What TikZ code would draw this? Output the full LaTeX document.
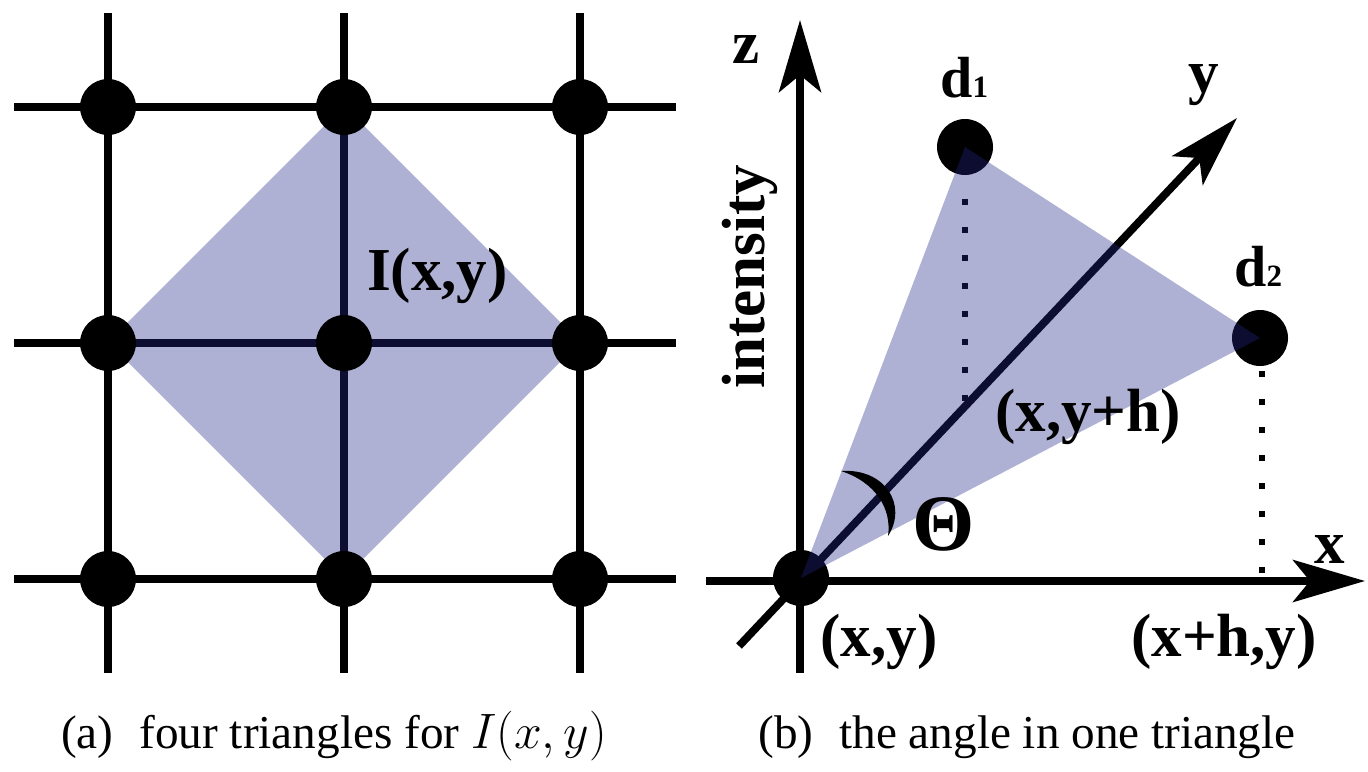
\documentclass[tikz,border=0pt]{standalone}
\usepackage{fontspec}
\setmainfont{Liberation Serif}
\usetikzlibrary{arrows.meta}
\definecolor{shadec}{RGB}{33,38,137}
\begin{document}
\begin{tikzpicture}[x=0.5pt,y=-0.5pt,
  lbl/.style={font=\bfseries\fontsize{30.5}{36}\selectfont, inner sep=0, anchor=base},
  dlbl/.style={font=\bfseries\fontsize{29}{34}\selectfont, inner sep=0, anchor=base west},
  dot/.style={circle, fill=black, minimum size=28pt, inner sep=0},
  gridline/.style={line width=3.7pt},
  axisline/.style={line width=3.9pt, -{Stealth[length=36pt,width=21pt,inset=8.5pt]}},
  dotline/.style={line width=3pt, dash pattern=on 3pt off 11pt},
  shade/.style={fill=shadec, fill opacity=0.365},
  capt/.style={font=\fontsize{23.6}{28}\selectfont, inner sep=0, anchor=base}]
\useasboundingbox (0,0) rectangle (1368,771);
% ---------- left panel ----------
\foreach \v in {108,344,580}{
  \draw[gridline] (\v,13) -- (\v,673);
  \draw[gridline] (14,\v-1) -- (676,\v-1);
}
\fill[shade] (344,106) -- (580,342) -- (344,578) -- (108,342) -- cycle;
\foreach \i/\x in {1/108,2/344,3/580}{
  \foreach \j/\y in {1/107,2/343,3/579}{
    \node[dot] (g\i\j) at (\x,\y) {};
  }
}
\node[lbl] (Ixy) at (437.5,290) {I(x,y)};
% ---------- right panel ----------
\coordinate (zbot) at (800,673);
\coordinate (ztop) at (800,20);
\coordinate (xleft) at (706,581);
\coordinate (xright) at (1365,581);
\coordinate (ytail) at (739,646);
\coordinate (ytip) at (1237,118);
\draw[axisline] (zbot) -- (ztop);
\draw[axisline] (xleft) -- (xright);
\draw[axisline] (ytail) -- (ytip);
\node[dot] (o) at (801,578) {};
\node[dot] (d1) at (965,147) {};
\node[dot] (d2) at (1260,338) {};
\coordinate (d1a) at (965,199);
\coordinate (d1b) at (965,406);
\coordinate (d2a) at (1262,371);
\coordinate (d2b) at (1262,578);
\draw[dotline] (d1a) -- (d1b);
\draw[dotline] (d2a) -- (d2b);
\fill[shade] (o.center) -- (d1.center) -- (d2.center) -- cycle;
\fill (841,471) .. controls (885,468) and (908,505) .. (888,536)
      .. controls (892,508) and (875,482) .. (841,471) -- cycle;
\node[lbl] (zl) at (746,63) {z};
\node[dlbl] (d1l) at (940,97) {d\fontsize{15.5}{18}\selectfont 1};
\node[lbl] (yl) at (1204,92) {y};
\node[dlbl] (d2l) at (1234,286) {d\fontsize{15.5}{18}\selectfont 2};
\node[lbl, rotate=90] (int) at (764,276.5) {intensity};
\node[lbl] (xyh) at (1088,431) {(x,y+h)};
\node[lbl, font=\bfseries\fontsize{40}{45}\selectfont] (th) at (944,550) {Θ};
\node[lbl] (xl) at (1330,563) {x};
\node[lbl] (xy) at (879,656) {(x,y)};
\node[lbl] (xhy) at (1224,656) {(x+h,y)};
% ---------- captions ----------
\node[capt] (capa) at (334,748) {(a)\hspace{0.55em}four triangles for $I(x,y)$};
\node[capt] (capb) at (1027,748) {(b)\hspace{0.55em}the angle in one triangle};
\end{tikzpicture}
\end{document}
